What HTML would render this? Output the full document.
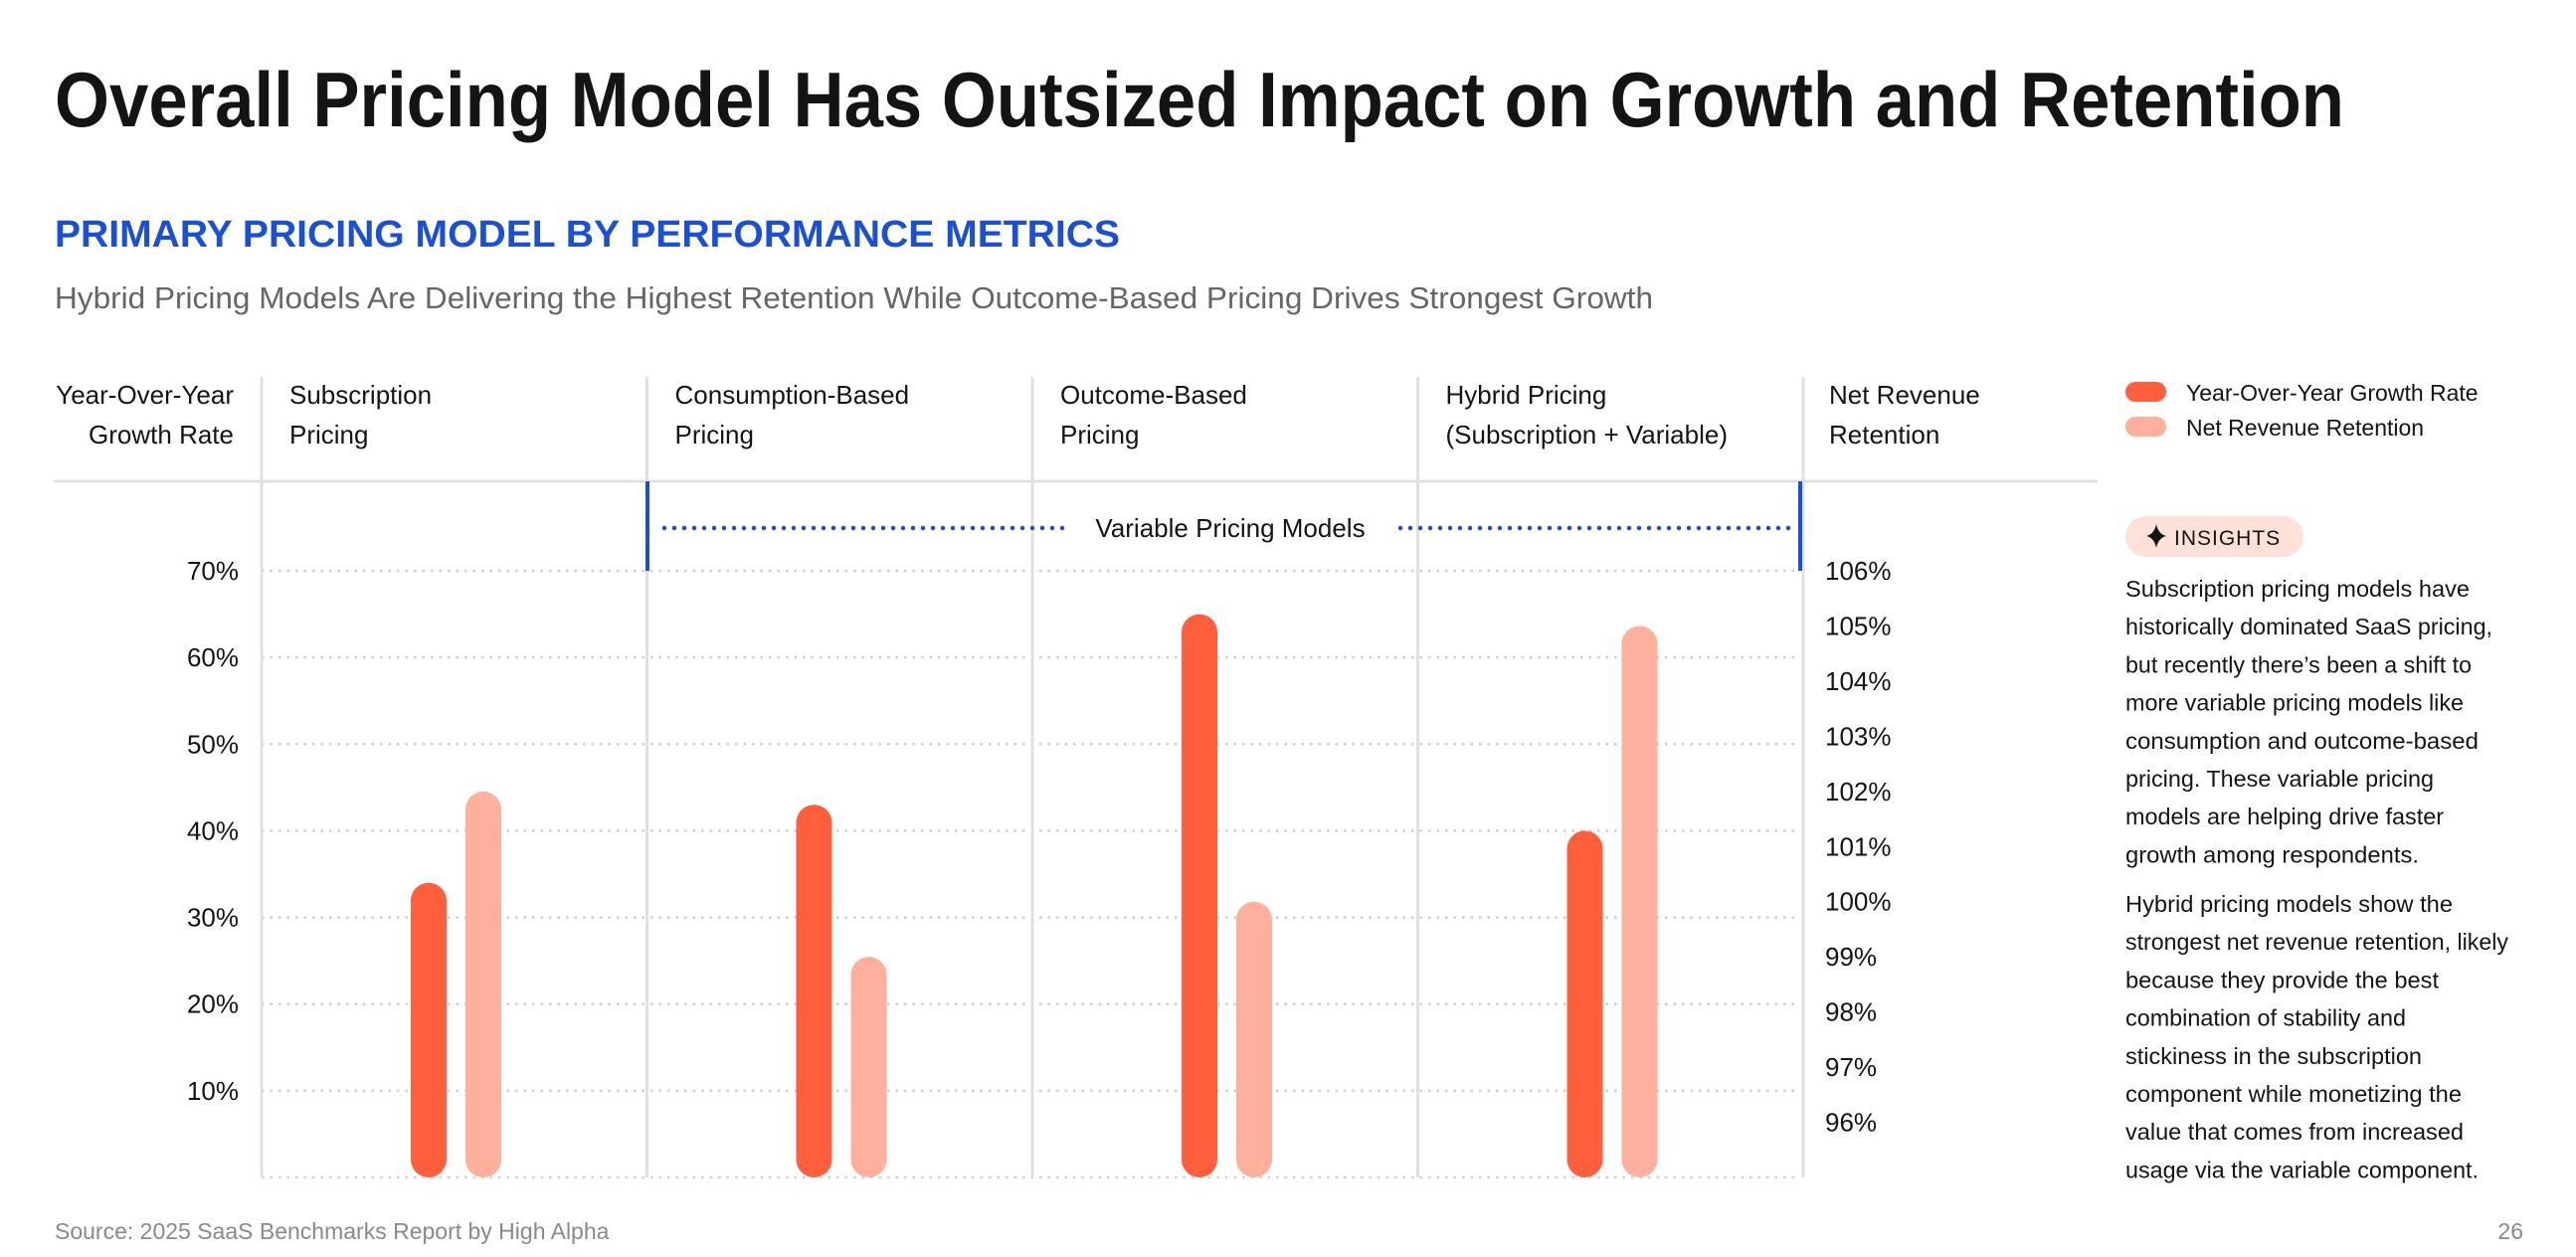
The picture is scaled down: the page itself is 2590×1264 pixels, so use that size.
<!DOCTYPE html>
<html><head><meta charset="utf-8"><style>
html,body{margin:0;padding:0;background:#fff}
svg{display:block;font-family:"Liberation Sans",sans-serif}
</style></head><body>
<svg id="chart" width="2590" height="1264" viewBox="0 0 2590 1264" xmlns="http://www.w3.org/2000/svg">
<text x="55" y="127" font-size="78" font-weight="bold" fill="#141414" textLength="2302" lengthAdjust="spacingAndGlyphs">Overall Pricing Model Has Outsized Impact on Growth and Retention</text>
<text x="55" y="248" font-size="38" font-weight="bold" fill="#1a4fd8" textLength="1071" lengthAdjust="spacingAndGlyphs">PRIMARY PRICING MODEL BY PERFORMANCE METRICS</text>
<text x="55" y="310" font-size="31" fill="#666" textLength="1607" lengthAdjust="spacingAndGlyphs">Hybrid Pricing Models Are Delivering the Highest Retention While Outcome-Based Pricing Drives Strongest Growth</text>

<g id="grid"></g>
<g id="frame">
<line x1="54" y1="484" x2="2109" y2="484" stroke="#e0e0e0" stroke-width="3"/>
</g>
<g id="headers" font-size="26" fill="#141414">
<text x="235" y="406" text-anchor="end">Year-Over-Year</text>
<text x="235" y="446" text-anchor="end">Growth Rate</text>
<text x="1839" y="406">Net Revenue</text>
<text x="1839" y="446">Retention</text>
</g>
<g id="variable">
<rect x="649" y="484" width="4" height="90" fill="#1a4fd8"/>
<rect x="1808" y="484" width="4" height="90" fill="#1a4fd8"/>
<line x1="668" y1="531" x2="1075" y2="531" stroke="#1a4fd8" stroke-width="4.5" stroke-dasharray="0 10" stroke-linecap="round"/>
<line x1="1408" y1="531" x2="1805" y2="531" stroke="#1a4fd8" stroke-width="4.5" stroke-dasharray="0 10" stroke-linecap="round"/>
<text x="1237" y="540" text-anchor="middle" font-size="26" fill="#141414">Variable Pricing Models</text>
</g>
<g id="axes" font-size="26" fill="#141414"></g>
<g id="bars"></g>

<g>
<rect x="2137" y="384" width="41" height="20" rx="10" fill="#ff5f3c"/>
<text x="2198" y="403" font-size="23" fill="#141414">Year-Over-Year Growth Rate</text>
<rect x="2137" y="419" width="41" height="20" rx="10" fill="#ffb09c"/>
<text x="2198" y="438" font-size="23" fill="#141414">Net Revenue Retention</text>
</g>
<g>
<rect x="2137" y="519" width="179" height="41" rx="20.5" fill="#ffe1d9"/>
<path d="M2168 527 Q2170 537 2178 539 Q2170 541 2168 551 Q2166 541 2158 539 Q2166 537 2168 527Z" fill="#141414"/>
<text x="2186" y="548" font-size="21" fill="#141414" letter-spacing="1">INSIGHTS</text>
<g font-size="23" fill="#141414" id="para"></g>
</g>
<text x="55" y="1246" font-size="23" fill="#8a8a8a">Source: 2025 SaaS Benchmarks Report by High Alpha</text>
<text x="2537" y="1246" text-anchor="end" font-size="23" fill="#8a8a8a">26</text>
</svg>
<script>
const categories = ["Subscription|Pricing", "Consumption-Based|Pricing", "Outcome-Based|Pricing", "Hybrid Pricing|(Subscription + Variable)"];
const growthValues = [34, 43, 65, 40];
const nrrValues = [102, 99, 100, 105];
const leftTicks = [10, 20, 30, 40, 50, 60, 70];
const rightTicks = [96, 97, 98, 99, 100, 101, 102, 103, 104, 105, 106];
const paragraphLines = [
 ["Subscription pricing models have", 346], ["historically dominated SaaS pricing,", 369], ["but recently there\u2019s been a shift to", 348],
 ["more variable pricing models like", 340], ["consumption and outcome-based", 355], ["pricing. These variable pricing", 310],
 ["models are helping drive faster", 320], ["growth among respondents.", 295],
 ["Hybrid pricing models show the", 329], ["strongest net revenue retention, likely", 385], ["because they provide the best", 315],
 ["combination of stability and", 282], ["stickiness in the subscription", 298], ["component while monetizing the", 338],
 ["value that comes from increased", 340], ["usage via the variable component.", 355]
];

const NS = "http://www.w3.org/2000/svg";
const base = 1184, top70 = 574, colX0 = 263, colW = 387.5, plotR = 1810;
const yL = v => base - v * (base - top70) / 70;
const yR = v => base - (v - 95) * (base - top70) / 11;
const colX = i => colX0 + i * colW;
function mk(tag, attrs, parent, txt) {
  const e = document.createElementNS(NS, tag);
  for (const k in attrs) e.setAttribute(k, attrs[k]);
  if (txt !== undefined) e.textContent = txt;
  parent.appendChild(e);
  return e;
}
const grid = document.getElementById('grid');
[0].concat(leftTicks).forEach(t => {
  const l = mk('line', {x1: colX0, x2: plotR, y1: yL(t), y2: yL(t), stroke: '#cfcfcf', 'stroke-width': 2.5, 'stroke-dasharray': '2.5 6'}, grid);
  
  
});
const frame = document.getElementById('frame');
for (let i = 0; i <= categories.length; i++) {
  const l = mk('line', {x1: colX(i), x2: colX(i), y1: 379, y2: base, stroke: '#e0e0e0', 'stroke-width': 3}, frame);
  
  
}
const headers = document.getElementById('headers');
categories.forEach((c, i) => {
  c.split('|').forEach((ln, j) => {
    const t = mk('text', {x: colX(i) + 28, y: 406 + j * 40}, headers, ln);
    
    
  });
});
const axes = document.getElementById('axes');
leftTicks.forEach(t => {
  const e = mk('text', {x: 240, y: yL(t) + 9, 'text-anchor': 'end'}, axes, t + '%');
  
  
});
rightTicks.forEach(t => {
  const e = mk('text', {x: 1835, y: yR(t) + 9}, axes, t + '%');
  
  
});
const bars = document.getElementById('bars');
const bw = 36;
categories.forEach((c, i) => {
  const gy = yL(growthValues[i]);
  const b1 = mk('rect', {x: colX(i) + 168 - bw / 2, y: gy, width: bw, height: base - gy, rx: bw / 2, fill: '#ff5f3c'}, bars);
  
  
  const ny = yR(nrrValues[i]);
  const b2 = mk('rect', {x: colX(i) + 223 - bw / 2, y: ny, width: bw, height: base - ny, rx: bw / 2, fill: '#ffb09c'}, bars);
  
  
});
const para = document.getElementById('para');
paragraphLines.forEach((p, i) => {
  const y = i < 8 ? 600 + i * 38.2 : 917 + (i - 8) * 38.2;
  const t = mk('text', {x: 2137, y: y, textLength: p[1], lengthAdjust: 'spacingAndGlyphs'}, para, p[0]);
  
  
});
</script>
</body></html>
